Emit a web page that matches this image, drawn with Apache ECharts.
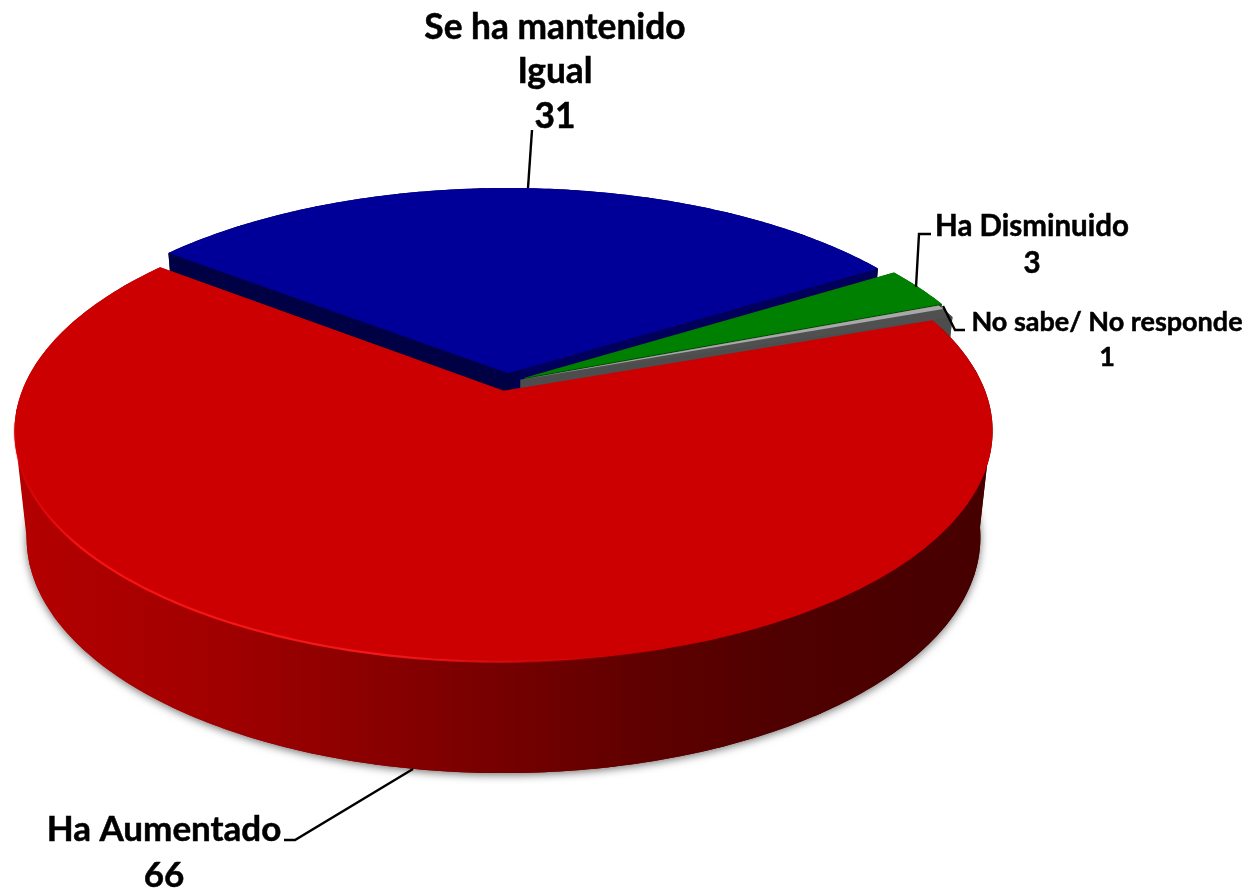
<!DOCTYPE html>
<html>
<head>
<meta charset="utf-8">
<style>html,body{margin:0;padding:0;background:#fff}#c{width:1249px;height:889px}</style>
<script src="https://cdn.jsdelivr.net/npm/echarts@6/dist/echarts.min.js"></script>
</head>
<body>
<div id="c"></div>
<script>
// Data
const categories = ["Ha Aumentado", "Se ha mantenido\nIgual", "Ha Disminuido", "No sabe/ No responde"];
const values = [66, 31, 3, 1];

// Styling and geometry
const topColors = ["#cc0000", "#000099", "#008000", "#505050"];
const drawOrder = [4, 1, 2, 3];       // paint order per slice
const startAngle = -17.5;             // degrees, clockwise from +x
const explodes = [0.04, 0.04, 0.04, 0.03];
const bevelStart = [2, 0, 0, 0];      // extra sweep of the top face at the slice start (rounded corner)
const P = {x0: 507, y0: 382, a: 478.2, b: 220.4, k: 0.1745, shrink: 0.975, depth: 105, depthV: 6};
const labelStyle = [
  {x: 164, y: 853, size: 35, lh: 46},
  {x: 555, y: 72,  size: 35.3, lh: 44.5},
  {x: 1032, y: 245, size: 29.5, lh: 37},
  {x: 1107, y: 340, size: 27, lh: 35}
];
const leaders = [
  [[413, 769], [295, 840], [284, 840]],
  [[532, 130], [528, 188]],
  [[931, 234], [919, 234], [916, 287]],
  [[943, 306], [955, 330], [965, 330]]
];

const total = values.reduce((s, v) => s + v, 0);
const rad = d => d * Math.PI / 180;

function project(u, v) {
  const w = 1 - P.k * v;
  return [P.x0 + P.a * u / w, P.y0 + P.b * v / w];
}
function lower(u, v) {
  const t = project(u, v);
  return [P.x0 - 3.5 + (t[0] - P.x0 + 3.5) * P.shrink, t[1] + P.depth + P.depthV * v];
}
function arcPts(fn, ox, oy, a1, a2) {
  const pts = [];
  const n = Math.max(4, Math.ceil(Math.abs(a2 - a1) / 0.75));
  for (let i = 0; i <= n; i++) {
    const a = rad(a1 + (a2 - a1) * i / n);
    pts.push(fn(ox + Math.cos(a), oy + Math.sin(a)));
  }
  return pts;
}
function poly(points, fill, z2, extra) {
  return {type: 'polygon', shape: {points}, style: Object.assign({fill, stroke: null}, extra || {}), z2, silent: true};
}
function lg(x0, x1, stops) {
  return new echarts.graphic.LinearGradient(x0, 0, x1, 0, stops.map(s => ({offset: s[0], color: s[1]})), true);
}
function wallFill(i) {
  if (i === 0) return lg(14, 992, [[0, '#b40000'], [0.2, '#a20000'], [0.42, '#820000'], [0.65, '#5e0000'], [0.78, '#500000'], [1, '#460000']]);
  if (i === 1) return lg(170, 880, [[0, '#000045'], [0.48, '#000045'], [0.5, '#00005c'], [1, '#00005c']]);
  if (i === 2) return '#004d00';
  return '#4d4d4d';
}

function renderItem(params, api) {
  const i = params.dataIndex;
  let acc = 0;
  for (let j = 0; j < i; j++) acc += values[j];
  const a1 = startAngle + acc / total * 360;
  const a2 = a1 + api.value(1) / total * 360;
  const mid = rad((a1 + a2) / 2);
  const ox = explodes[i] * Math.cos(mid), oy = explodes[i] * Math.sin(mid);
  const base = drawOrder[i] * 10;
  const fillW = wallFill(i);

  const topArc = arcPts(project, ox, oy, a1 - bevelStart[i], a2);
  const botArc = arcPts(lower, ox, oy, a1, a2);
  const apexT = project(ox, oy), apexB = lower(ox, oy);

  const children = [];
  // bottom face, casting the soft shadow
  children.push(poly([apexB].concat(botArc), fillW, base, {
    shadowBlur: 9, shadowColor: 'rgba(0,0,0,0.55)', shadowOffsetX: 0, shadowOffsetY: 2
  }));
  // outer wall in small overlapping pieces, so the folds at the silhouette do not cancel
  const step = 12;
  for (let s = a1; s < a2; s += step) {
    const e = Math.min(a2, s + step + 1);
    const t = arcPts(project, ox, oy, s, e);
    const b = arcPts(lower, ox, oy, s, e);
    children.push(poly(t.concat(b.reverse()), fillW, base + 1));
  }
  // radial walls
  children.push(poly([apexT, project(ox + Math.cos(rad(a1)), oy + Math.sin(rad(a1))), botArc[0], apexB], fillW, base + 2));
  children.push(poly([apexT, topArc[topArc.length - 1], botArc[botArc.length - 1], apexB], fillW, base + 2));
  // top face
  children.push(poly([apexT].concat(topArc), topColors[i], base + 3));
  // light edge on the small grey slice
  if (i === 3) {
    children.push(poly([apexT].concat(arcPts(project, ox, oy, a1, a1 + 1.1)), '#a8a8a8', base + 4));
  }
  // bright rim along the front-left edge of the big slice
  if (i === 0) {
    children.push({
      type: 'polyline', silent: true, z2: base + 4,
      shape: {points: arcPts(project, ox, oy, 80, 172)},
      style: {fill: null, lineWidth: 2.2, stroke: lg(20, 620, [[0, 'rgba(255,20,20,0.2)'], [0.1, 'rgba(255,20,20,0.9)'], [0.6, 'rgba(255,30,30,0.85)'], [1, 'rgba(255,30,30,0)']])}
    });
  }
  // leader line
  children.push({
    type: 'polyline', silent: true, z2: 100,
    shape: {points: leaders[i]},
    style: {fill: null, stroke: '#000', lineWidth: 2.4}
  });
  // label
  const ls = labelStyle[i];
  children.push({
    type: 'text', silent: true, z2: 101,
    x: ls.x, y: ls.y,
    style: {
      text: categories[i] + '\n' + api.value(1),
      fill: '#000', stroke: '#000', lineWidth: 0.5, align: 'center', verticalAlign: 'middle',
      font: 'bold ' + ls.size + 'px Lato, sans-serif', lineHeight: ls.lh
    }
  });
  return {type: 'group', children};
}

const chart = echarts.init(document.getElementById('c'), null, {renderer: 'canvas'});
chart.setOption({
  backgroundColor: '#ffffff',
  animation: false,
  series: [{
    type: 'custom',
    coordinateSystem: 'none',
    renderItem,
    clip: false,
    data: values.map((v, i) => [i, v])
  }]
});
</script>
</body>
</html>
